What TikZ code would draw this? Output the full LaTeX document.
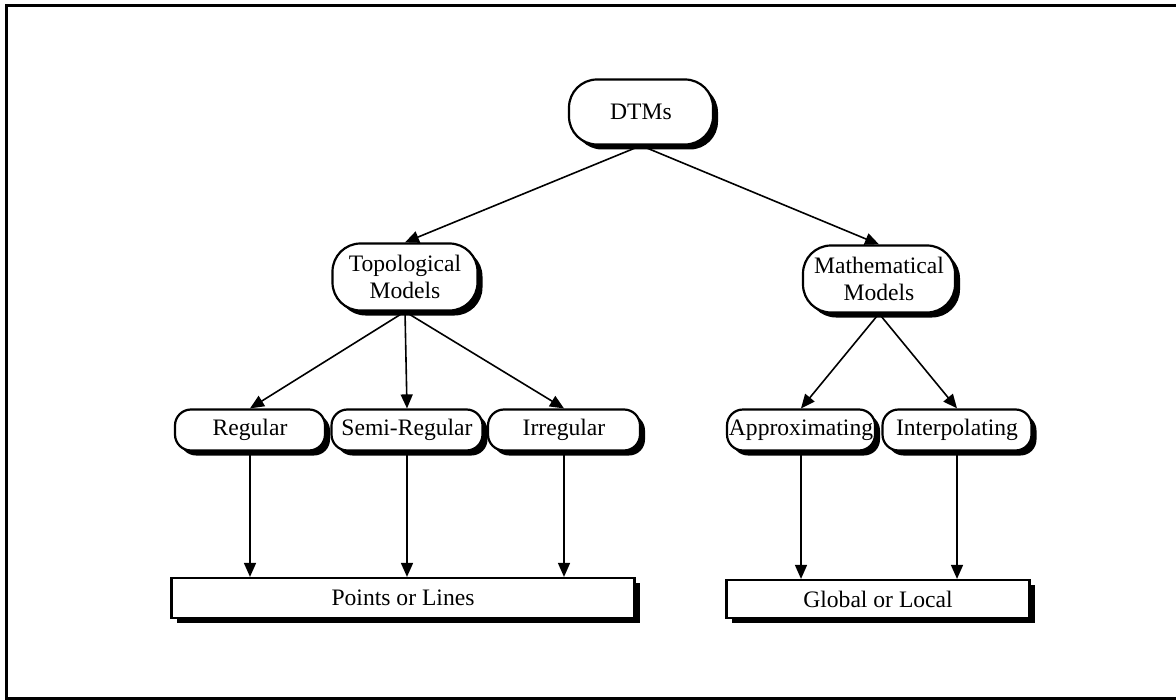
\documentclass[tikz,border=0pt]{standalone}
\usepackage{fontspec}
\setmainfont{Liberation Serif}
\usetikzlibrary{shadows,arrows.meta}
\tikzset{
  pill/.style={draw, line width=1.1pt, fill=white, rounded corners=14pt, align=center,
    inner sep=0pt, font=\fontsize{11.8}{13.5}\selectfont,
    drop shadow={shadow xshift=2.5pt, shadow yshift=-2.5pt, fill=black, opacity=1}},
  leaf/.style={pill, rounded corners=8pt, minimum height=20.5pt},
  base/.style={pill, sharp corners, minimum height=20pt},
  link/.style={-{Triangle[length=7pt,width=6pt]}, line width=0.8pt}
}
\begin{document}
\begin{tikzpicture}[x=0.5pt, y=-0.5pt]
                \useasboundingbox (0,0) rectangle (1176,700);
                % Draw the frame
                \draw[line width=1.5pt] (1180,5.5) -- (6.5,5.5) -- (6.5,698.5) -- (1180,698.5);

                % Draw the root and the two model families
                \node[pill, minimum width=72pt, minimum height=32.5pt] (DTMs) at (641,112) {DTMs};
                \node[pill, minimum width=72.5pt, minimum height=33.5pt] (Topo) at (405,277) {Topological\\Models};
                \node[pill, minimum width=76pt, minimum height=33.5pt] (Math) at (879,279) {Mathematical\\Models};

                % Draw the kinds of models
                \node[leaf, minimum width=75pt] (Reg) at (250,430) {Regular};
                \node[leaf, minimum width=75.5pt] (SemiReg) at (407,430) {Semi-Regular};
                \node[leaf, minimum width=76pt] (Irreg) at (564,430) {Irregular};
                \node[leaf, minimum width=74pt] (Approx) at (801,430) {Approximating};
                \node[leaf, minimum width=74.5pt] (Interp) at (957,430) {Interpolating};

                % Draw the bottom boxes
                \node[base, minimum width=231.5pt] (PL) at (403,598) {Points or Lines};
                \node[base, minimum width=151.5pt, minimum height=19pt] (GL) at (878,599) {Global or Local};

                % Draw the arrows
                \draw[link] (DTMs.south) -- (Topo.north);
                \draw[link] (DTMs.south) -- (Math.north);
                \draw[link] (Topo.south) -- (Reg.north);
                \draw[link] (Topo.south) -- (SemiReg.north);
                \draw[link] (Topo.south) -- (Irreg.north);
                \draw[link] (Math.south) -- (Approx.north);
                \draw[link] (Math.south) -- (Interp.north);
                \draw[link] (Reg.south) -- (Reg.south |- PL.north);
                \draw[link] (SemiReg.south) -- (SemiReg.south |- PL.north);
                \draw[link] (Irreg.south) -- (Irreg.south |- PL.north);
                \draw[link] (Approx.south) -- (Approx.south |- GL.north);
                \draw[link] (Interp.south) -- (Interp.south |- GL.north);
            \end{tikzpicture}
\end{document}
